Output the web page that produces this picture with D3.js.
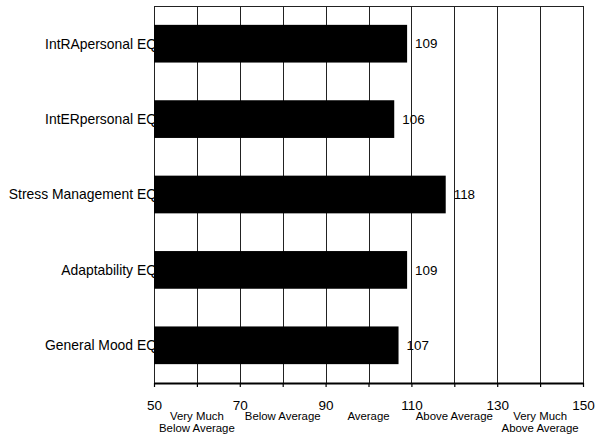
<!DOCTYPE html>
<html>
<head>
<meta charset="utf-8">
<script src="https://cdn.jsdelivr.net/npm/d3@7"></script>
<style>
  html, body { margin: 0; padding: 0; background: #fff; }
  svg { display: block; font-family: "Liberation Sans", Arial, sans-serif; }
</style>
</head>
<body>
<svg id="chart" width="595" height="439"></svg>
<script>
const categories = ["IntRApersonal EQ", "IntERpersonal EQ", "Stress Management EQ", "Adaptability EQ", "General Mood EQ"];
const values = [109, 106, 118, 109, 107];
const gridTicks = [50, 60, 70, 80, 90, 100, 110, 120, 130, 140, 150];
const tickLabels = [50, 70, 90, 110, 130, 150];
const rangeCenters = [60, 80, 100, 120, 140];
const rangeNames = [["Very Much", "Below Average"], ["Below Average"], ["Average"], ["Above Average"], ["Very Much", "Above Average"]];

(function () {
const svg = d3.select("#chart");
const pLeft = 154, pRight = 583, pTop = 6, pBottom = 383;

const x = d3.scaleLinear().domain([50, 150]).range([pLeft, pRight]);
const y = d3.scaleBand().domain(categories).range([pTop, pBottom]).paddingInner(0.5).paddingOuter(0.25);

// category labels (drawn under bars, like the reference)
svg.append("g").selectAll("text").data(categories).join("text")
  .attr("x", pLeft + 3)
  .attr("y", d => y(d) + y.bandwidth() / 2)
  .attr("dy", "0.35em")
  .attr("text-anchor", "end")
  .attr("font-size", 13.9)
  .attr("fill", "#000")
  .text(d => d);

// gridlines
svg.append("g").selectAll("line").data(gridTicks).join("line")
  .attr("x1", d => Math.round(x(d)) + 0.5)
  .attr("x2", d => Math.round(x(d)) + 0.5)
  .attr("y1", pTop)
  .attr("y2", pBottom)
  .attr("stroke", "#222")
  .attr("stroke-width", 1);

// top border
svg.append("line")
  .attr("x1", pLeft).attr("x2", pRight + 0.5)
  .attr("y1", pTop + 0.5).attr("y2", pTop + 0.5)
  .attr("stroke", "#222").attr("stroke-width", 1);

// bars
svg.append("g").selectAll("rect").data(values).join("rect")
  .attr("x", x(50))
  .attr("y", (d, i) => y(categories[i]))
  .attr("width", d => x(d) - x(50))
  .attr("height", y.bandwidth())
  .attr("fill", "#000");

// value labels
svg.append("g").selectAll("text").data(values).join("text")
  .attr("x", d => x(d) + 8)
  .attr("y", (d, i) => y(categories[i]) + y.bandwidth() / 2)
  .attr("dy", "0.35em")
  .attr("font-size", 13.4)
  .attr("fill", "#000")
  .text(d => d);

// x axis
const axis = d3.axisBottom(x)
  .tickValues(gridTicks)
  .tickSizeInner(4)
  .tickSizeOuter(0)
  .tickFormat(d => tickLabels.includes(d) ? d : "");
const ax = svg.append("g").attr("transform", `translate(0,${pBottom})`).call(axis);
ax.select(".domain").attr("stroke", "#000").attr("stroke-width", 2);
ax.selectAll(".tick line").attr("stroke", "#000").attr("stroke-width", 1.2);
ax.selectAll(".tick text")
  .attr("font-family", "Liberation Sans, Arial, sans-serif")
  .attr("font-size", 13.5)
  .attr("fill", "#000")
  .attr("y", 17)
  .attr("dy", "0.71em");

// range names
const rg = svg.append("g");
rangeNames.forEach((lines, i) => {
  const t = rg.append("text")
    .attr("x", x(rangeCenters[i]))
    .attr("y", 420)
    .attr("text-anchor", "middle")
    .attr("font-size", 11.4)
    .attr("fill", "#000");
  lines.forEach((ln, j) => {
    t.append("tspan").attr("x", x(rangeCenters[i])).attr("dy", j === 0 ? 0 : 12).text(ln);
  });
});
})();
</script>
</body>
</html>
